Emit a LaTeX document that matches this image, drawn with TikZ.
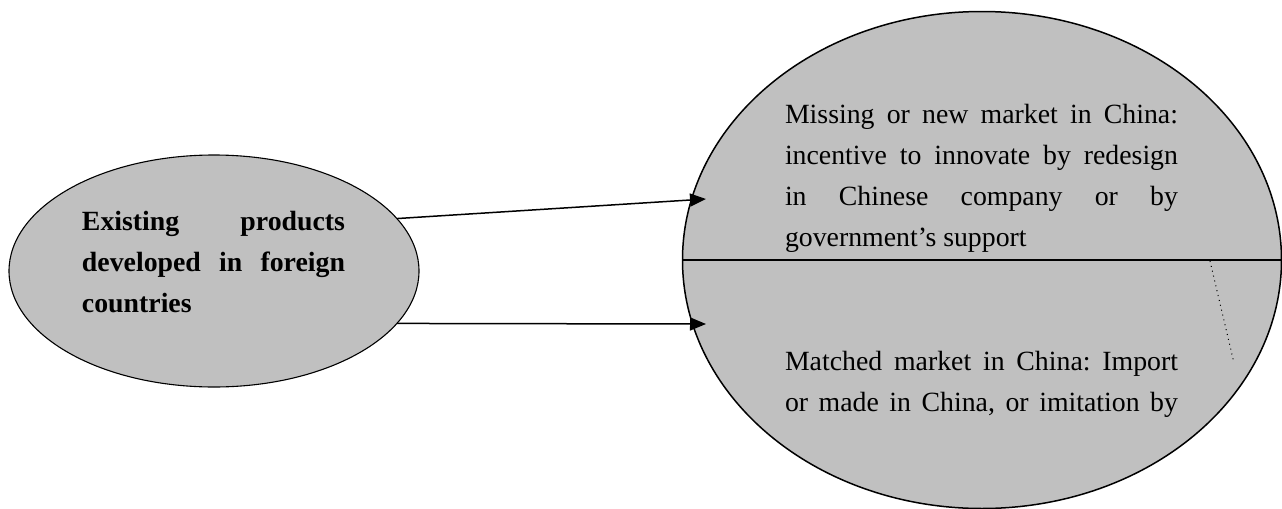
\documentclass[tikz,border=0pt]{standalone}
\usepackage{fontspec}
\setmainfont{Liberation Serif}
\usetikzlibrary{shapes.geometric,arrows.meta}
\definecolor{silver}{HTML}{C0C0C0}
\frenchspacing
\begin{document}
\begin{tikzpicture}[x=0.5pt,y=-0.5pt,
  bubble/.style={ellipse,draw=black,fill=silver,inner sep=0pt,outer sep=0pt},
  txt/.style={anchor=north west,inner sep=0pt,outer sep=0pt,align=justify,
    font=\fontsize{13.9pt}{20.5pt}\selectfont},
  conn/.style={line width=0.75pt,-{Triangle[length=8pt,width=6.5pt]}},
  guide/.style={line width=0.5pt,dotted}]
\useasboundingbox (0,0) rectangle (1282,509);
% ellipses
\node[bubble,line width=0.55pt,minimum width=205pt,minimum height=116pt] (L) at (214,271) {};
\node[bubble,line width=0.75pt,minimum width=299.5pt,minimum height=248.5pt] (R) at (982,260) {};
\draw[line width=0.75pt] (R.west) -- (R.east);
% texts
\node[txt,text width=131.5pt,font=\fontsize{13.9pt}{20.5pt}\selectfont\bfseries] (lt) at (82,211)
  {Existing products\linebreak developed in foreign\linebreak countries};
\node[txt,text width=196.5pt] (ut) at (785,104)
  {Missing or new market in China:\linebreak incentive to innovate by redesign\linebreak in Chinese company or by\linebreak government's support};
\node[txt,text width=196.5pt] (bt) at (785,351)
  {Matched market in China: Import\linebreak or made in China, or imitation by\parfillskip=0pt\par};
% arrows
\coordinate (t1) at (706,199);
\coordinate (t2) at (706,324);
\draw[conn] (L.16) -- (t1);
\draw[conn] (L.-16) -- (t2);
% dotted guide
\coordinate (d1) at (1210,261);
\coordinate (d2) at (1234,363);
\draw[guide] (d1) -- (d2);
\end{tikzpicture}
\end{document}
